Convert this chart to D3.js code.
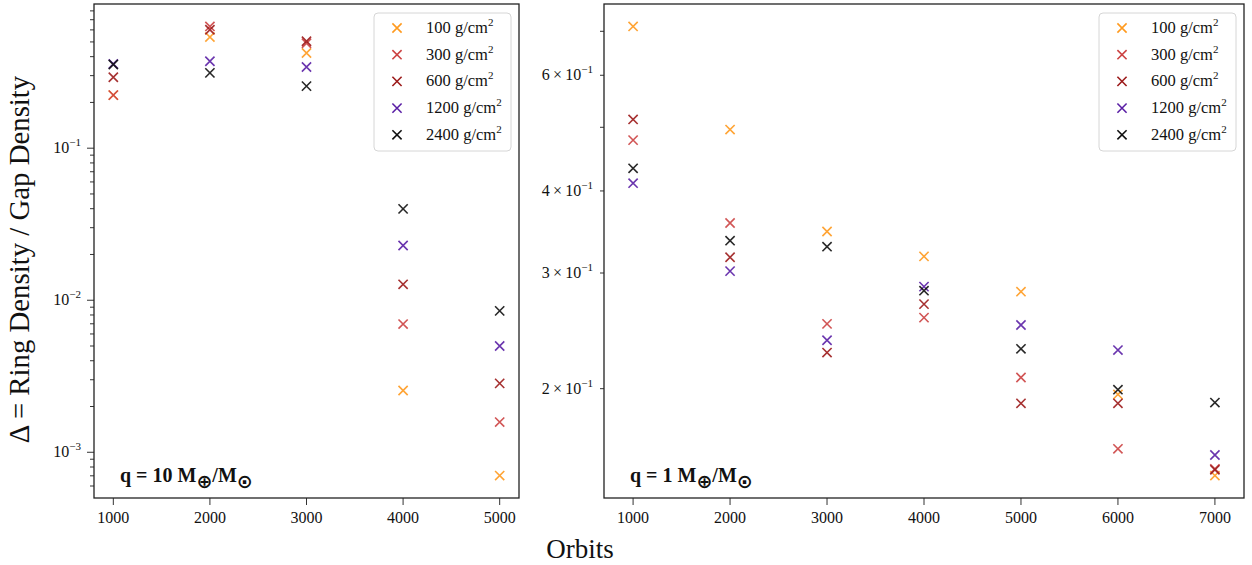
<!DOCTYPE html>
<html>
<head>
<meta charset="utf-8">
<script src="https://cdn.jsdelivr.net/npm/d3@7"></script>
<style>
  html, body { margin: 0; padding: 0; background: #fff; }
  svg { display: block; }
  text { font-family: "Liberation Serif", "Times New Roman", serif; fill: #111; }
</style>
</head>
<body>
<svg id="chart" width="1252" height="565"></svg>
<script>
// ---------- data ----------
const orbitsLeft  = [1000, 2000, 3000, 4000, 5000];
const orbitsRight = [1000, 2000, 3000, 4000, 5000, 6000, 7000];
const seriesNames = ["100", "300", "600", "1200", "2400"];
const seriesColors = ["#ff9a1f", "#cc4343", "#9c1b1b", "#5a1fa5", "#111111"];

// q = 10 M_earth / M_sun
const left100  = [0.2235, 0.538, 0.423, 0.00255, 0.000703];
const left300  = [0.2235, 0.632, 0.490, 0.00697, 0.00158];
const left600  = [0.293, 0.601, 0.505, 0.01273, 0.00284];
const left1200 = [0.358, 0.373, 0.342, 0.0229, 0.00500];
const left2400 = [0.355, 0.313, 0.256, 0.0399, 0.00851];

// q = 1 M_earth / M_sun
const right100  = [0.712, 0.496, 0.347, 0.318, 0.281, 0.196, 0.1475];
const right300  = [0.478, 0.3575, 0.251, 0.2566, 0.208, 0.162, 0.151];
const right600  = [0.514, 0.317, 0.227, 0.269, 0.190, 0.190, 0.1505];
const right1200 = [0.411, 0.302, 0.237, 0.286, 0.250, 0.229, 0.1585];
const right2400 = [0.433, 0.336, 0.329, 0.282, 0.230, 0.1993, 0.1905];

const leftSeries  = [left100, left300, left600, left1200, left2400];
const rightSeries = [right100, right300, right600, right1200, right2400];

const leftMajorTicks = [1e-3, 1e-2, 1e-1];
const leftMajorExp = ["−3", "−2", "−1"];
const rightTicks = [0.2, 0.3, 0.4, 0.5, 0.6, 0.7];
const rightTickLabels = {0.2: "2", 0.3: "3", 0.4: "4", 0.6: "6"};

// ---------- layout ----------
const svg = d3.select("#chart");
const panels = [
  {x0: 94, x1: 519, y0: 4, y1: 498, xs: orbitsLeft, ys: leftSeries, q: "10", kind: "left"},
  {x0: 604, x1: 1244, y0: 4, y1: 498, xs: orbitsRight, ys: rightSeries, q: "1", kind: "right"}
];

function padLinear(vals) {
  const mn = d3.min(vals), mx = d3.max(vals), r = mx - mn;
  return [mn - 0.05 * r, mx + 0.05 * r];
}
function padLog(vals) {
  const mn = Math.log10(d3.min(vals)), mx = Math.log10(d3.max(vals)), r = mx - mn;
  return [Math.pow(10, mn - 0.05 * r), Math.pow(10, mx + 0.05 * r)];
}

const majorLen = 7, minorLen = 4;

panels.forEach(p => {
  const x = d3.scaleLinear().domain(padLinear(p.xs)).range([p.x0, p.x1]);
  const y = d3.scaleLog().domain(padLog(p.ys.flat())).range([p.y1, p.y0]);
  const g = svg.append("g");

  // x ticks
  const xt = g.append("g");
  p.xs.forEach(v => {
    xt.append("line").attr("x1", x(v)).attr("x2", x(v))
      .attr("y1", p.y1).attr("y2", p.y1 + majorLen)
      .attr("stroke", "#333").attr("stroke-width", 1);
    xt.append("text").attr("x", x(v)).attr("y", 523)
      .attr("text-anchor", "middle").attr("font-size", 16).text(v);
  });

  // y ticks
  const yt = g.append("g");
  const [dmin, dmax] = y.domain();
  if (p.kind === "left") {
    const kmin = Math.floor(Math.log10(dmin)), kmax = Math.ceil(Math.log10(dmax));
    for (let k = kmin; k <= kmax; k++) {
      for (let m = 2; m <= 9; m++) {
        const v = m * Math.pow(10, k);
        if (v < dmin || v > dmax) continue;
        yt.append("line").attr("x1", p.x0).attr("x2", p.x0 - minorLen)
          .attr("y1", y(v)).attr("y2", y(v)).attr("stroke", "#333").attr("stroke-width", 1);
      }
    }
    leftMajorTicks.forEach((v, i) => {
      yt.append("line").attr("x1", p.x0).attr("x2", p.x0 - majorLen)
        .attr("y1", y(v)).attr("y2", y(v)).attr("stroke", "#333").attr("stroke-width", 1);
      const t = yt.append("text").attr("x", p.x0 - 13).attr("y", y(v) + 5)
        .attr("text-anchor", "end").attr("font-size", 16);
      t.append("tspan").text("10");
      t.append("tspan").attr("font-size", 11).attr("dy", -7).text(leftMajorExp[i]);
    });
  } else {
    rightTicks.forEach(v => {
      yt.append("line").attr("x1", p.x0).attr("x2", p.x0 - minorLen)
        .attr("y1", y(v)).attr("y2", y(v)).attr("stroke", "#333").attr("stroke-width", 1);
      if (rightTickLabels[v]) {
        const t = yt.append("text").attr("x", p.x0 - 11).attr("y", y(v) + 5)
          .attr("text-anchor", "end").attr("font-size", 16);
        t.append("tspan").text(rightTickLabels[v] + "\u2009×\u200910");
        t.append("tspan").attr("font-size", 11).attr("dy", -7).text("−1");
      }
    });
  }

  // markers
  p.ys.forEach((vals, si) => {
    const sg = g.append("g").attr("stroke", seriesColors[si]).attr("stroke-width", 1.6)
      .attr("stroke-opacity", 0.9);
    vals.forEach((v, i) => {
      const cx = x(p.xs[i]), cy = y(v), s = 4.6;
      sg.append("path").attr("d", `M${cx - s},${cy - s}L${cx + s},${cy + s}M${cx - s},${cy + s}L${cx + s},${cy - s}`)
        .attr("fill", "none");
    });
  });

  // frame
  g.append("rect").attr("x", p.x0).attr("y", p.y0)
    .attr("width", p.x1 - p.x0).attr("height", p.y1 - p.y0)
    .attr("fill", "none").attr("stroke", "#222").attr("stroke-width", 1.3);

  // legend
  const lw = 137, lh = 138;
  const lx = p.x1 - 8 - lw, ly = 13;
  const lg = g.append("g");
  lg.append("rect").attr("x", lx).attr("y", ly).attr("width", lw).attr("height", lh)
    .attr("rx", 4).attr("fill", "#fff").attr("fill-opacity", 0.85)
    .attr("stroke", "#d6d6d6").attr("stroke-width", 1);
  seriesNames.forEach((nm, i) => {
    const cy = ly + 15 + i * 26.7, cx = lx + 23, s = 4.6;
    lg.append("path").attr("d", `M${cx - s},${cy - s}L${cx + s},${cy + s}M${cx - s},${cy + s}L${cx + s},${cy - s}`)
      .attr("stroke", seriesColors[i]).attr("stroke-width", 1.6).attr("fill", "none");
    const t = lg.append("text").attr("x", lx + 52).attr("y", cy + 5).attr("font-size", 16.5);
    t.append("tspan").text(nm + " g/cm");
    t.append("tspan").attr("font-size", 11).attr("dy", -7).text("2");
  });

  // annotation
  const at = g.append("text").attr("x", p.x0 + 26).attr("y", 482)
    .attr("font-size", 20).attr("font-weight", "bold");
  at.append("tspan").text(`q = ${p.q} M`);
  at.append("tspan").attr("font-size", 19).attr("dy", 6).attr("font-family", "DejaVu Sans").text("⊕");
  at.append("tspan").attr("dy", -6).text("/M");
  at.append("tspan").attr("font-size", 19).attr("dy", 6).attr("font-family", "DejaVu Sans").text("⊙");
});

// axis titles
svg.append("text").attr("x", 580).attr("y", 558).attr("text-anchor", "middle")
  .attr("font-size", 27).text("Orbits");
svg.append("text").attr("transform", "translate(29,259.5) rotate(-90)")
  .attr("text-anchor", "middle").attr("font-size", 28.8)
  .text("Δ = Ring Density / Gap Density");
</script>
</body>
</html>
